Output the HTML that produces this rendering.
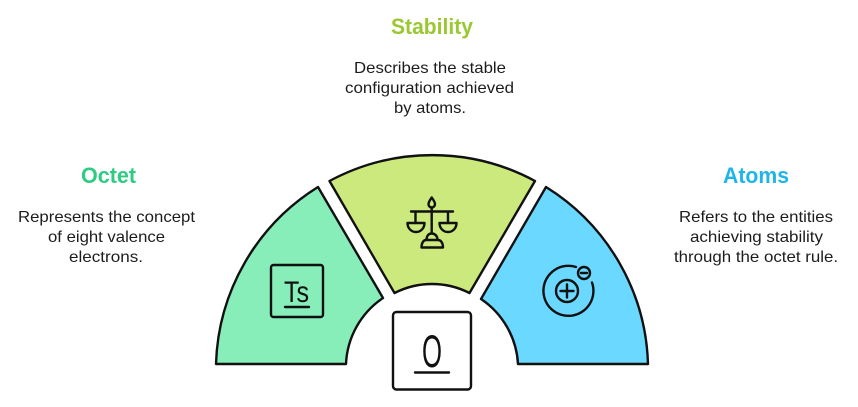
<!DOCTYPE html>
<html>
<head>
<meta charset="utf-8">
<style>
html,body{margin:0;padding:0;background:#fff;width:858px;height:407px;overflow:hidden}
svg{display:block}
text{font-family:"Liberation Sans",sans-serif}
.t{font-size:22px;font-weight:bold}
.b{font-size:16px;fill:#1c1c1c}
.s{fill:none;stroke:#111;stroke-width:2.4;stroke-linecap:round;stroke-linejoin:round}
.i{fill:none;stroke:#111;stroke-width:2.4;stroke-linejoin:round}
</style>
</head>
<body>
<svg width="858" height="407" viewBox="0 0 858 407" xmlns="http://www.w3.org/2000/svg">
  <path d="M216,364 A216,216 0 0 1 318,187 L383,298 A84,84 0 0 0 346,364 Z" fill="#87eeb9" stroke="#111" stroke-width="2.4" stroke-linejoin="round"/>
  <path d="M329.5,181 A217,217 0 0 1 535,181 L469.5,293 A82.6,82.6 0 0 0 394.5,293 Z" fill="#cbe97d" stroke="#111" stroke-width="2.4" stroke-linejoin="round"/>
  <path d="M648,364 A216,216 0 0 0 546,187 L481,299 A84,84 0 0 1 518,364 Z" fill="#6bd8ff" stroke="#111" stroke-width="2.4" stroke-linejoin="round"/>

  <!-- Ts icon -->
  <rect x="271" y="265" width="52" height="52" rx="2.5" class="i"/>
  <text x="284" y="302" font-size="30" fill="#111" textLength="25" lengthAdjust="spacingAndGlyphs">Ts</text>
  <line x1="285" y1="307" x2="309" y2="307" class="s"/>

  <!-- O icon -->
  <rect x="393" y="312" width="78" height="77.5" rx="3.5" fill="#fff" stroke="#111" stroke-width="2.4"/>
  <text x="422" y="367" font-size="45" fill="#111" textLength="20" lengthAdjust="spacingAndGlyphs">O</text>
  <line x1="415" y1="372.5" x2="449" y2="372.5" class="s"/>

  <!-- Scale icon -->
  <path d="M431.7,197.5 C430,200 428.5,202 428.5,204 C428.5,206 430,207.5 431.7,207.5 C433.5,207.5 435,206 435,204 C435,202 433.5,200 431.7,197.5 Z" class="i"/>
  <path d="M431.7,207.5 V233 M411,211.5 H453 M415.5,211.5 V223 M448,211.5 V223" class="s"/>
  <path d="M407.5,223 H424.5 C424.5,228.5 420.5,232 416,232 C411.5,232 407.5,228.5 407.5,223 Z" class="i"/>
  <path d="M439.5,223 H456.5 C456.5,228.5 452.5,232 448,232 C443.5,232 439.5,228.5 439.5,223 Z" class="i"/>
  <path d="M421.5,247.5 H443 C443,243 441,240 438,240 H426 C423.500,240 421.500,243 421.5,247.5 Z" class="i"/>
  <path d="M426.5,240 C426.5,236 428.5,233.500 431.7,233.500 C435,233.500 437.500,236 437.500,240" class="i"/>

  <!-- Atom icon -->
  <path d="M576,267 A25,25 0 1 0 592,282.5" class="s"/>
  <circle cx="567" cy="291" r="11" class="i"/>
  <path d="M560.5,291 H573.5 M567,284.5 V297.5" class="s"/>
  <circle cx="584" cy="273" r="6" class="i"/>
  <path d="M581,273 H587" class="s"/>

  <!-- Labels -->
  <text class="t" x="391" y="34" fill="#9ac832" textLength="82" lengthAdjust="spacingAndGlyphs">Stability</text>
  <text class="b" x="354" y="73" textLength="152" lengthAdjust="spacingAndGlyphs">Describes the stable</text>
  <text class="b" x="345" y="93" textLength="169" lengthAdjust="spacingAndGlyphs">configuration achieved</text>
  <text class="b" x="394" y="113" textLength="72" lengthAdjust="spacingAndGlyphs">by atoms.</text>

  <text class="t" x="81" y="183" fill="#2ecc82" textLength="55" lengthAdjust="spacingAndGlyphs">Octet</text>
  <text class="b" x="18" y="222" textLength="177" lengthAdjust="spacingAndGlyphs">Represents the concept</text>
  <text class="b" x="48" y="242" textLength="117" lengthAdjust="spacingAndGlyphs">of eight valence</text>
  <text class="b" x="69" y="262" textLength="74" lengthAdjust="spacingAndGlyphs">electrons.</text>

  <text class="t" x="723" y="183" fill="#1fb5e8" textLength="66" lengthAdjust="spacingAndGlyphs">Atoms</text>
  <text class="b" x="679" y="222" textLength="154" lengthAdjust="spacingAndGlyphs">Refers to the entities</text>
  <text class="b" x="690" y="242" textLength="133" lengthAdjust="spacingAndGlyphs">achieving stability</text>
  <text class="b" x="674" y="262" textLength="164" lengthAdjust="spacingAndGlyphs">through the octet rule.</text>
</svg>
</body>
</html>
